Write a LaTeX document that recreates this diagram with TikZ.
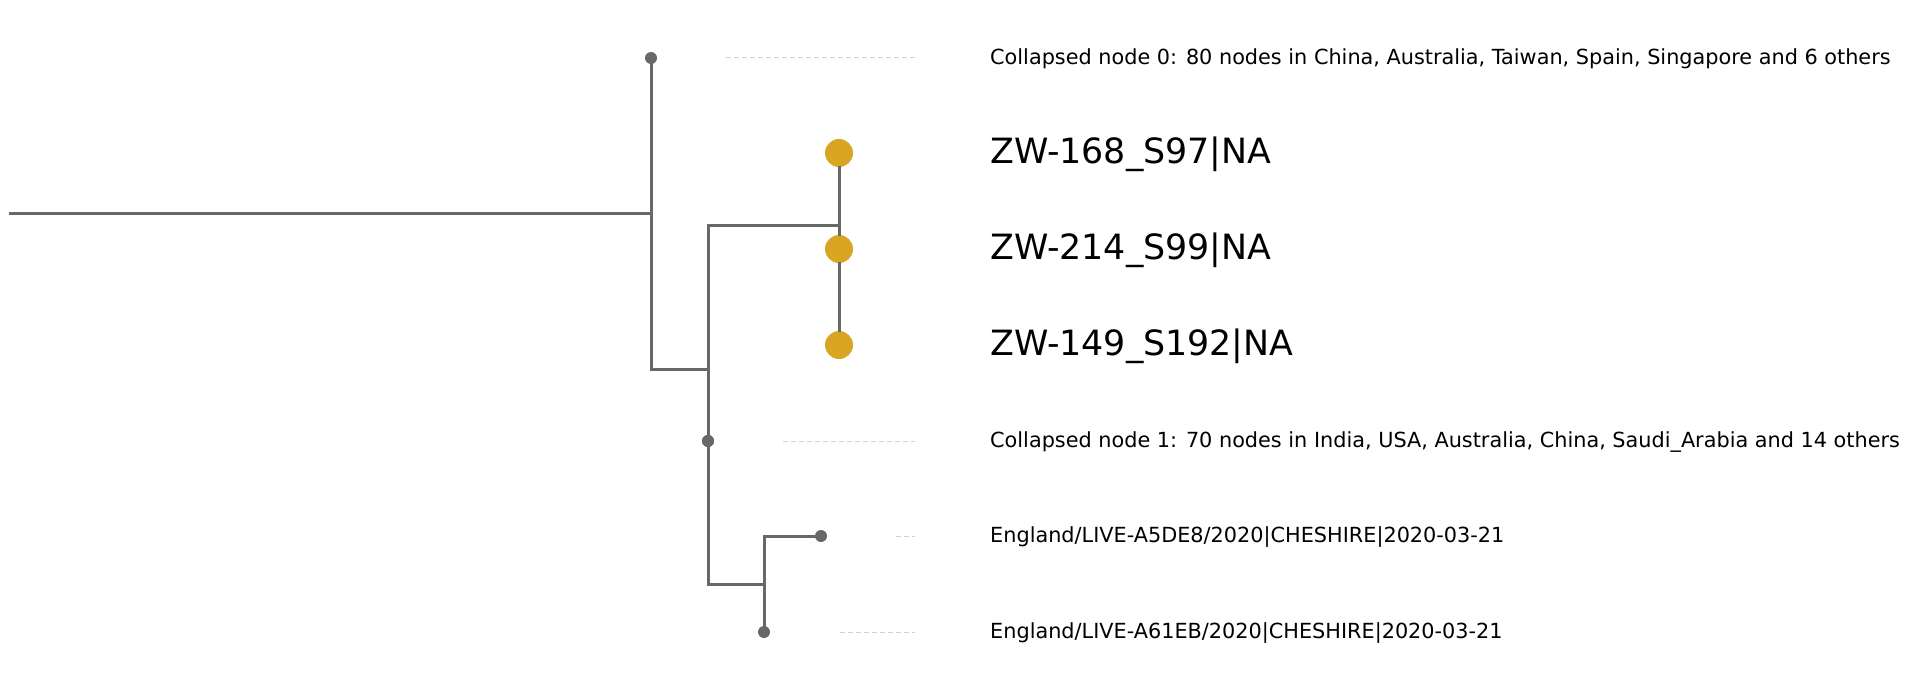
\documentclass[tikz,border=0pt]{standalone}
\usepackage{fontspec}
\setmainfont{DejaVu Sans}
\usetikzlibrary{positioning}
\definecolor{branchgray}{HTML}{686868}
\definecolor{leadergray}{HTML}{D3D3D3}
\definecolor{tipgold}{HTML}{DAA520}

\begin{document}
\begin{tikzpicture}[x=1pt,y=-1pt,
  branch/.style={draw=branchgray,line width=3pt,line cap=rect},
  leader/.style={draw=leadergray,line width=1pt,dash pattern=on 5pt off 3pt},
  tipdot/.style={circle,fill=branchgray,inner sep=0pt,minimum size=12pt},
  hitdot/.style={circle,fill=tipgold,inner sep=0pt,minimum size=28pt},
  smalllab/.style={anchor=west,font=\fontsize{20.8}{24}\selectfont,inner sep=0pt},
  biglab/.style={anchor=west,font=\fontsize{34.8}{40}\selectfont,inner sep=0pt}]
\useasboundingbox (0,0) rectangle (1909,690);

% internal points of the tree
\coordinate (r) at (10,213);
\coordinate (b) at (708,369);
\coordinate (c) at (839,225);
\coordinate (d) at (764,584);
\coordinate (stop) at (915,0);

% tips
\node[tipdot] (t0) at (651,58) {};
\node[hitdot] (y1) at (839,153) {};
\node[hitdot] (y2) at (839,249) {};
\node[hitdot] (y3) at (839,345) {};
\node[tipdot] (t1) at (708,441) {};
\node[tipdot] (e1) at (821,536) {};
\node[tipdot] (e2) at (764,632) {};

% branches
\draw[branch] (r) -- (t0 |- r);
\draw[branch] (t0) |- (b);
\draw[branch] (c) -| (b) |- (d);
\draw[branch] (y1) -- (y2) -- (y3);
\draw[branch] (e1) -| (d) -- (e2);
\node[tipdot] at (t1) {};

% leaders
\coordinate (l0) at (726,58);
\coordinate (l1) at (783,441);
\coordinate (l2) at (896,536);
\coordinate (l3) at (840,632);
\foreach \l in {l0,l1,l2,l3}
  \draw[leader] (\l) -- (\l -| stop);

% labels
\node[smalllab] (n0) at (990,59) {Collapsed node 0: 80 nodes in China, Australia, Taiwan, Spain, Singapore and 6 others};
\node[biglab] (n1) at (990,154) {ZW-168\_S97|NA};
\node[biglab] (n2) at (990,250) {ZW-214\_S99|NA};
\node[biglab] (n3) at (990,346) {ZW-149\_S192|NA};
\node[smalllab] (n4) at (990,442) {Collapsed node 1: 70 nodes in India, USA, Australia, China, Saudi\_Arabia and 14 others};
\node[smalllab] (n5) at (990,537) {England/LIVE-A5DE8/2020|CHESHIRE|2020-03-21};
\node[smalllab] (n6) at (990,633) {England/LIVE-A61EB/2020|CHESHIRE|2020-03-21};

\end{tikzpicture}
\end{document}
